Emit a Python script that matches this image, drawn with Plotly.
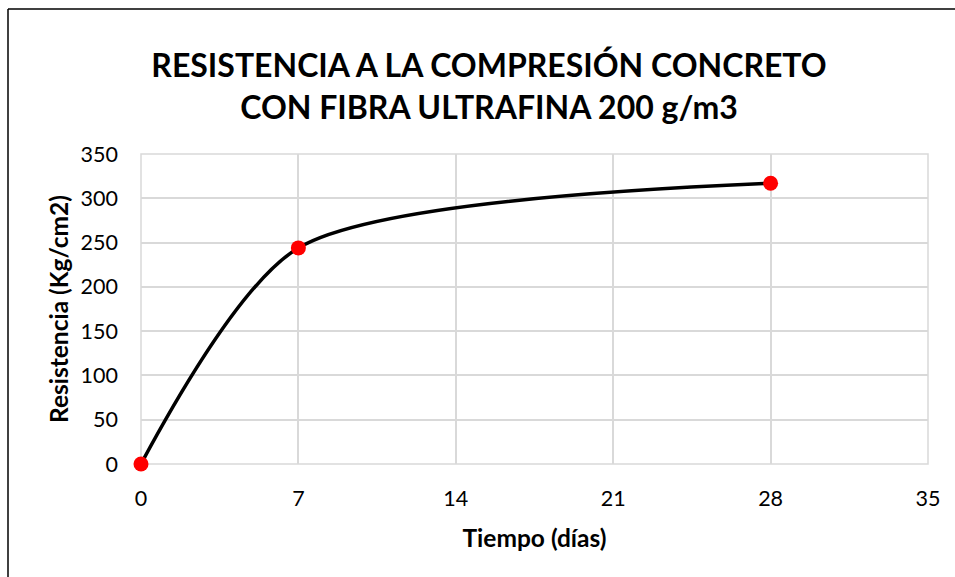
import plotly.graph_objects as go

dias = [0, 7, 28]
resistencia = [0, 244, 317]
x_ticks = [0, 7, 14, 21, 28, 35]
y_ticks = [0, 50, 100, 150, 200, 250, 300, 350]

FONT = "Lato"
L, R, T, B = 141, 27, 154, 113
PW, PH = 955 - L - R, 577 - T - B

fig = go.Figure()
fig.add_trace(go.Scatter(
    x=dias, y=resistencia, mode="lines",
    line=dict(color="black", width=3.5, shape="spline", smoothing=0.75),
    hoverinfo="skip", showlegend=False, cliponaxis=False))
fig.add_trace(go.Scatter(
    x=dias, y=resistencia, mode="markers",
    marker=dict(color="#ff0000", size=15),
    showlegend=False, cliponaxis=False))

fig.update_layout(
    width=955, height=577,
    paper_bgcolor="white", plot_bgcolor="white",
    margin=dict(l=L, r=R, t=T, b=B),
    font=dict(family=FONT, color="black", size=21.5),
    title=dict(text="<b>RESISTENCIA A LA COMPRESIÓN CONCRETO<br>CON FIBRA ULTRAFINA 200 g/m3</b>",
               x=(489) / 955, xanchor="center", y=1 - 77 / 577, yanchor="middle",
               font=dict(family=FONT, size=32, color="black")),
    xaxis=dict(range=[0, 35], tickvals=x_ticks, showgrid=True, gridcolor="#d9d9d9",
               gridwidth=1.5, zeroline=False, showline=False, ticks="",
               ticklabelstandoff=19,
               title=dict(text="<b>Tiempo (días)</b>", font=dict(size=24.5), standoff=20)),
    yaxis=dict(range=[0, 350], tickvals=y_ticks, showgrid=True, gridcolor="#d9d9d9",
               gridwidth=1.5, zeroline=False, showline=False, ticks="",
               ticklabelstandoff=22,
               title=dict(text="<b>Resistencia (Kg/cm2)</b>", font=dict(size=24.5), standoff=5)),
    shapes=[
        dict(type="rect", xref="paper", yref="paper", x0=0, x1=1, y0=0, y1=1,
             line=dict(color="#d9d9d9", width=1.5), layer="below"),
        dict(type="line", xref="paper", yref="paper",
             x0=(8 - L) / PW, x1=(8 - L) / PW, y0=(577 - B - 9) / PH, y1=-0.5,
             line=dict(color="black", width=1.5)),
        dict(type="line", xref="paper", yref="paper",
             x0=(8 - L) / PW, x1=1.2, y0=(577 - B - 9) / PH, y1=(577 - B - 9) / PH,
             line=dict(color="black", width=1.5)),
    ],
)

fig.write_html("out.html", config={"displayModeBar": False})

with open("out.html", "r", encoding="utf-8") as f:
    html = f.read()
html = html.replace("<head>", "<head><style>html,body{margin:0;padding:0;overflow:hidden;}</style>", 1)
with open("out.html", "w", encoding="utf-8") as f:
    f.write(html)
